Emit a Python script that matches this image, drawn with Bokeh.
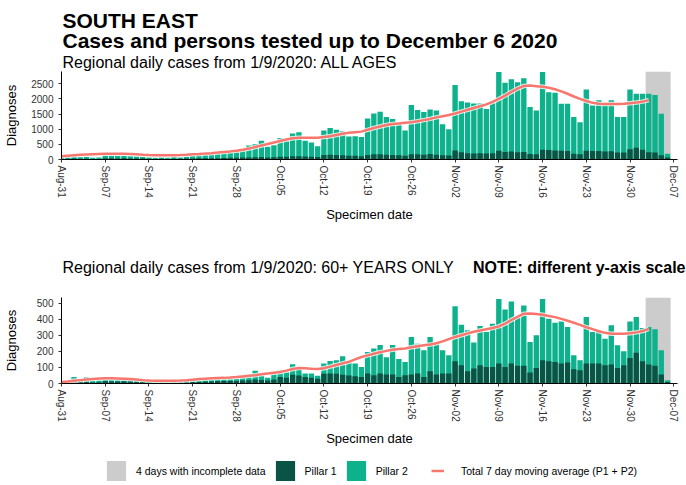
from bokeh.plotting import figure
from bokeh.models import FixedTicker, Label, Legend, LegendItem, Range1d
from bokeh.embed import file_html
from bokeh.resources import INLINE

# ---------------- data ----------------
tick_days = [0, 7, 14, 21, 28, 35, 42, 49, 56, 63, 70, 77, 84, 91, 98]
tick_labels = ["Aug-31", "Sep-07", "Sep-14", "Sep-21", "Sep-28", "Oct-05", "Oct-12",
               "Oct-19", "Oct-26", "Nov-02", "Nov-09", "Nov-16", "Nov-23", "Nov-30", "Dec-07"]
incomplete_days = 4

# ALL AGES: total daily cases (P1 + P2), one value per day from Aug-31 to Dec-06
all_total = [70, 80, 90, 75, 80, 60, 70,
             140, 130, 120, 130, 110, 100, 90,
             70, 60, 70, 60, 80, 70, 90,
             120, 150, 170, 190, 200, 220, 240,
             275, 320, 460, 500, 620, 420, 470,
             710, 600, 860, 900, 620, 560, 440,
             960, 1040, 980, 930, 760, 770, 740,
             1350, 1520, 1580, 1400, 1340, 1170, 960,
             1800, 1630, 1570, 1650, 1620, 1160, 1000,
             2460, 1920, 1880, 1850, 1850, 1670, 1870,
             2890, 2530, 2650, 2550, 2680, 1730, 1620,
             2890, 2220, 2200, 1840, 1840, 1400, 1230,
             2310, 1780, 1960, 1800, 1960, 1400, 1400,
             2310, 2170, 2170, 2170, 2130, 1510, 190]
all_p1 = [20, 25, 30, 25, 25, 20, 20,
          40, 40, 35, 40, 35, 30, 30,
          25, 20, 25, 20, 25, 25, 30,
          35, 40, 40, 45, 45, 50, 55,
          60, 65, 70, 75, 80, 70, 75,
          90, 90, 110, 110, 95, 90, 80,
          150, 160, 150, 140, 120, 120, 110,
          150, 170, 170, 160, 150, 140, 120,
          170, 170, 160, 180, 160, 140, 130,
          300, 240, 210, 200, 210, 200, 210,
          290, 250, 260, 240, 250, 180, 170,
          320, 310, 300, 290, 280, 190, 170,
          290, 280, 280, 260, 270, 230, 230,
          340, 390, 320, 240, 230, 140, 70]
all_ma = [110, 125, 140, 155, 165, 175, 185,
          190, 190, 190, 188, 185, 175, 160,
          148, 142, 140, 140, 142, 148, 158,
          170, 182, 195, 210, 228, 248, 268,
          290, 320, 360, 410, 460, 510, 560,
          610, 660, 700, 720, 720, 720, 720,
          740, 770, 810, 850, 880, 900, 920,
          980, 1040, 1090, 1140, 1170, 1190, 1210,
          1230, 1260, 1300, 1340, 1390, 1430, 1470,
          1520, 1580, 1640, 1700, 1760, 1820, 1900,
          2000, 2110, 2230, 2340, 2430, 2440, 2420,
          2400, 2370, 2320, 2250, 2170, 2080, 2000,
          1930, 1870, 1840, 1830, 1830, 1830, 1840,
          1860, 1880, 1910, 1960]

# 60+ YEARS ONLY
old_total = [15, 20, 40, 20, 40, 15, 20,
             30, 25, 25, 30, 25, 20, 20,
             12, 10, 12, 10, 12, 10, 15,
             25, 20, 25, 25, 30, 30, 30,
             30, 40, 55, 80, 50, 35, 60,
             83, 70, 120, 100, 62, 62, 48,
             124, 140, 145, 170, 137, 124, 103,
             196, 217, 240, 163, 240, 153, 134,
             289, 248, 207, 289, 248, 207, 176,
             481, 366, 331, 255, 358, 320, 372,
             525, 461, 510, 407, 485, 258, 300,
             525, 403, 378, 386, 351, 176, 145,
             413, 320, 331, 279, 362, 238, 200,
             386, 413, 345, 351, 337, 207, 20]
old_p1 = [5, 8, 10, 8, 10, 6, 8,
          15, 12, 12, 14, 12, 10, 10,
          6, 5, 6, 5, 6, 5, 7,
          10, 10, 12, 12, 15, 15, 15,
          15, 18, 20, 25, 22, 18, 25,
          40, 35, 55, 50, 40, 35, 30,
          60, 62, 60, 55, 50, 45, 40,
          62, 52, 62, 56, 56, 41, 52,
          56, 62, 41, 76, 56, 62, 62,
          138, 114, 76, 93, 114, 103, 103,
          124, 103, 124, 110, 110, 68, 97,
          145, 138, 134, 124, 131, 89, 83,
          124, 124, 124, 114, 118, 97, 114,
          159, 192, 138, 118, 110, 56, 10]
old_ma = [10, 13, 17, 21, 25, 28, 31,
          32, 32, 31, 30, 28, 25, 21,
          18, 17, 17, 17, 17, 18, 20,
          24, 28, 30, 32, 34, 35, 37,
          40, 44, 48, 52, 57, 62, 67,
          72, 80, 90, 97, 95, 92, 90,
          95, 105, 115, 125, 135, 150, 165,
          175, 185, 195, 203, 210, 215, 218,
          225, 232, 238, 242, 250, 262, 276,
          289, 300, 312, 322, 330, 338, 345,
          355, 372, 395, 415, 434, 436, 432,
          428, 420, 413, 402, 390, 378, 365,
          350, 338, 325, 315, 310, 310, 310,
          312, 318, 326, 340]

all_yticks = [0, 500, 1000, 1500, 2000, 2500]
old_yticks = [0, 100, 200, 300, 400, 500]

# ---------------- style ----------------
FONT = "Liberation Sans"
C_P1 = "#0a5445"
C_P2 = "#0db18c"
C_GREY = "#cccccc"
C_RED = "#f8766d"
W = 686


def text_fig(height):
    p = figure(width=W, height=height, x_range=Range1d(0, W), y_range=Range1d(height, 0),
               output_backend="svg", toolbar_location=None,
               x_axis_location=None, y_axis_location=None,
               min_border_left=0, min_border_right=0,
               min_border_top=0, min_border_bottom=0)
    p.outline_line_color = None
    p.grid.visible = False
    return p


def add_label(p, x, y, text, size, bold=False, align="left"):
    p.add_layout(Label(x=x, y=y, text=text,
                       text_font=FONT, text_font_size=size,
                       text_font_style="bold" if bold else "normal",
                       text_color="black", text_baseline="middle",
                       text_align=align))


def draw_series(p, total, p1, ma, ymax, visible=True):
    days = list(range(len(total)))
    last = days[-1]
    grey = p.quad(left=last - incomplete_days + 0.5, right=last + 0.5,
                  bottom=0, top=ymax, fill_color=C_GREY, line_color=None, visible=visible)
    b2 = p.vbar(x=days, top=total, width=0.86, fill_color=C_P2, line_color=None, visible=visible)
    b1 = p.vbar(x=days, top=p1, width=0.86, fill_color=C_P1, line_color=None, visible=visible)
    mdays = days[:len(ma)]
    if visible:
        p.line(mdays, ma, line_color="white", line_width=4.5, line_alpha=0.8)
    ln = p.line(mdays, ma, line_color=C_RED, line_width=2.5, visible=visible)
    return grey, b1, b2, ln


def make_panel(total, p1, ma, yticks, ymax, frame_h, bottom, ylab_standoff):
    p = figure(frame_width=616, frame_height=frame_h,
               x_range=Range1d(0, 98.6), y_range=Range1d(0, ymax),
               output_backend="svg", toolbar_location=None,
               min_border_left=61, min_border_right=9,
               min_border_top=0, min_border_bottom=bottom)
    p.outline_line_color = None
    p.xgrid.visible = False
    p.ygrid.visible = False
    draw_series(p, total, p1, ma, ymax)

    xa = p.xaxis[0]
    xa.ticker = FixedTicker(ticks=tick_days)
    xa.major_label_overrides = {d: s for d, s in zip(tick_days, tick_labels)}
    xa.major_label_orientation = "vertical"
    xa.minor_tick_line_color = None
    xa.major_tick_in = 0
    xa.major_tick_out = 3
    xa.major_label_standoff = 3
    xa.major_label_text_font = FONT
    xa.major_label_text_font_size = "10px"
    xa.major_label_text_color = "#333333"
    xa.axis_line_color = "black"
    xa.major_tick_line_color = "#333333"
    xa.axis_label = "Specimen date"
    xa.axis_label_text_font = FONT
    xa.axis_label_text_font_size = "13px"
    xa.axis_label_text_font_style = "normal"
    xa.axis_label_text_color = "black"
    xa.axis_label_standoff = 6

    ya = p.yaxis[0]
    ya.ticker = FixedTicker(ticks=yticks)
    ya.minor_tick_line_color = None
    ya.major_tick_in = 0
    ya.major_tick_out = 3
    ya.major_label_standoff = 5
    ya.major_label_text_font = FONT
    ya.major_label_text_font_size = "10px"
    ya.major_label_text_color = "#333333"
    ya.axis_line_color = "black"
    ya.major_tick_line_color = "#333333"
    ya.axis_label = "Diagnoses"
    ya.axis_label_text_font = FONT
    ya.axis_label_text_font_size = "13px"
    ya.axis_label_text_font_style = "normal"
    ya.axis_label_text_color = "black"
    ya.axis_label_standoff = ylab_standoff
    return p


def style_legend(lg, glyph_w, standoff):
    lg.orientation = "horizontal"
    lg.glyph_width = glyph_w
    lg.glyph_height = 25
    lg.label_standoff = standoff
    lg.spacing = 7
    lg.padding = 0
    lg.margin = 0
    lg.border_line_color = None
    lg.background_fill_alpha = 0
    lg.inactive_fill_alpha = 0
    lg.label_text_font = FONT
    lg.label_text_font_size = "10.5px"
    lg.label_text_color = "black"


# header of the first panel
head1 = text_fig(71)
add_label(head1, 62, 19.5, "SOUTH EAST", "21px", bold=True)
add_label(head1, 62, 39.5, "Cases and persons tested up to December  6 2020", "21px", bold=True)
add_label(head1, 62, 62, "Regional daily cases from 1/9/2020: ALL AGES", "16px")

top = make_panel(all_total, all_p1, all_ma, all_yticks, 2905,
                 frame_h=88, bottom=93, ylab_standoff=9)

# header of the second panel
head2 = text_fig(45)
add_label(head2, 62, 14.5, "Regional daily cases from 1/9/2020: 60+ YEARS ONLY", "16px")
add_label(head2, 685, 14.5, "NOTE: different y-axis scale", "16px", bold=True, align="right")

bot = make_panel(old_total, old_p1, old_ma, old_yticks, 535,
                 frame_h=86, bottom=65, ylab_standoff=15)

# legend strip: keys taken from hidden copies of the bottom panel's renderers
leg = text_fig(37)
k_grey, k_p1, k_p2, k_ma = draw_series(leg, old_total, old_p1, old_ma, 535, visible=False)
legend_a = Legend(items=[
    LegendItem(label="4 days with incomplete data", renderers=[k_grey]),
    LegendItem(label="Pillar 1", renderers=[k_p1]),
    LegendItem(label="Pillar 2", renderers=[k_p2]),
], location=(104, 2))
style_legend(legend_a, 24, 8)
legend_b = Legend(items=[
    LegendItem(label="Total 7 day moving average (P1 + P2)", renderers=[k_ma]),
], location=(431, 2))
style_legend(legend_b, 13, 17)
leg.add_layout(legend_a, "center")
leg.add_layout(legend_b, "center")

open("out.html", "w").write(file_html([head1, top, head2, bot, leg], INLINE))
